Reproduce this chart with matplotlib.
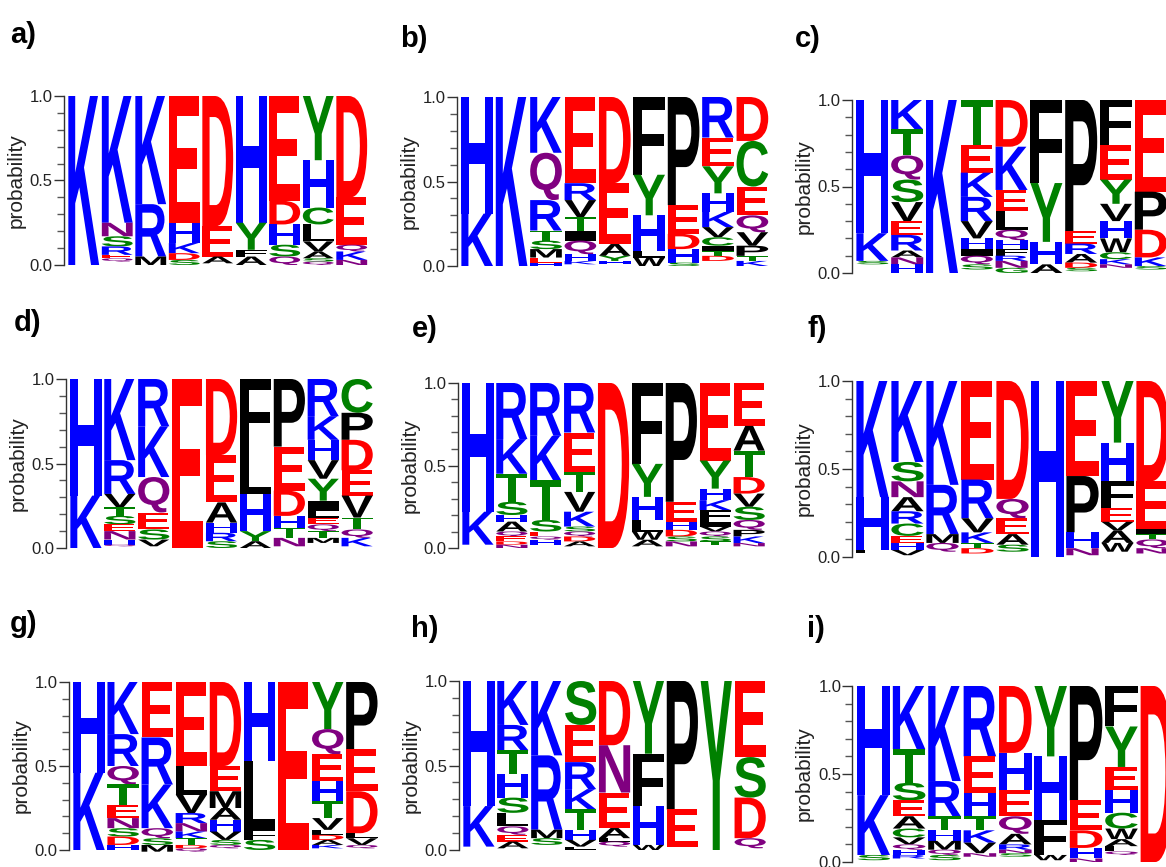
import matplotlib
matplotlib.use("Agg")
import matplotlib.pyplot as plt
from matplotlib.textpath import TextPath
from matplotlib.font_manager import FontProperties
from matplotlib.patches import PathPatch
from matplotlib.transforms import Affine2D
from matplotlib.ticker import MultipleLocator, FixedLocator

# ---------------- data: letters (top to bottom) and probabilities per column ----
a_letters = ["K", "KNSREQ", "KRM", "EHKDS", "DEA", "HYFA", "EDHSQ", "YHCLVASQ", "DEQKN"]
a_probs = [[1.0], [.75, .08, .06, .05, .02, .02], [.64, .31, .05], [.75, .12, .06, .04, .03],
           [.77, .18, .04], [.75, .16, .04, .05], [.62, .14, .12, .07, .05],
           [.38, .28, .10, .10, .06, .04, .02, .02], [.60, .28, .04, .05, .03]]

b_letters = ["HK", "K", "KQRTSMEH", "ERVTIQHK", "DEAYH", "FYHLW", "PEDHS", "REYHKVCITD", "DCEQVPTK"]
b_probs = [[.69, .31], [1.0], [.33, .28, .18, .06, .05, .05, .03, .02],
           [.51, .10, .10, .08, .06, .08, .04, .02], [.51, .36, .07, .03, .02],
           [.46, .24, .21, .04, .05], [.64, .17, .09, .08, .02],
           [.24, .17, .16, .11, .09, .06, .05, .03, .03, .03],
           [.26, .27, .17, .10, .08, .06, .03, .03]]

c_letters = ["HKS", "KTQSVERANH", "K", "TEKRVHIQS", "DKELQHFRNG", "FYHA", "PERADS", "FEYVHWCKN", "EPDKS"]
c_probs = [[.77, .16, .02], [.17, .15, .14, .13, .11, .08, .09, .04, .04, .05], [1.0],
           [.26, .16, .14, .14, .10, .06, .04, .05, .03],
           [.27, .25, .12, .11, .06, .05, .04, .03, .04, .03], [.48, .34, .13, .05],
           [.76, .07, .06, .05, .03, .02], [.26, .20, .14, .10, .10, .08, .04, .03, .02],
           [.53, .22, .16, .05, .02]]

d_letters = ["HK", "KRVTSENHQ", "RKQESV", "E", "DEAHRS", "FLHYA", "PEDHTN", "RKHVYILEQTM", "CPDEVTQK"]
d_probs = [[.69, .31], [.48, .20, .08, .05, .05, .04, .05, .03, .01], [.28, .30, .21, .10, .06, .04],
           [1.0], [.45, .28, .12, .06, .05, .04], [.41, .27, .22, .06, .04],
           [.40, .26, .15, .07, .06, .05], [.22, .14, .12, .11, .13, .06, .04, .04, .04, .04, .03],
           [.20, .16, .18, .15, .13, .07, .05, .05]]

e_letters = ["HK", "RKTSHAQEDN", "RKTSEQH", "RETVKSQDA", "D", "FYHLWA", "PEHDSN", "EYHKFIVQST", "EATDVSQPKN"]
e_probs = [[.78, .20], [.34, .21, .17, .08, .04, .06, .03, .03, .02, .02],
           [.32, .27, .24, .07, .03, .02, .03], [.30, .24, .12, .12, .09, .03, .03, .03, .03],
           [1.0], [.49, .20, .14, .07, .05, .04], [.72, .12, .05, .04, .03, .03],
           [.47, .17, .07, .06, .07, .03, .03, .03, .03, .02],
           [.26, .15, .16, .10, .08, .08, .06, .04, .04, .02]]

f_letters = ["KHL", "KSNARCEHV", "KRMQ", "ERVKTD", "DQEAS", "H", "EPHN", "YHFEVAW", "DEITQN"]
f_probs = [[.66, .30, .02], [.46, .11, .09, .08, .07, .07, .04, .04, .03], [.59, .28, .05, .05],
           [.56, .22, .08, .06, .03, .03], [.67, .11, .09, .06, .04], [1.0], [.54, .32, .09, .04],
           [.35, .22, .15, .08, .05, .07, .05], [.57, .27, .03, .03, .05, .03]]

g_letters = ["HK", "KRQTENSDH", "ERKQSM", "ELVRNKTDQ", "DEMAHVSQ", "HLFS", "E", "YQEHTVLDAK", "PEDLVQ"]
g_probs = [[.54, .46], [.31, .19, .11, .12, .08, .06, .05, .05, .03], [.33, .28, .26, .06, .04, .04],
           [.50, .17, .11, .06, .05, .04, .04, .02, .02], [.50, .15, .10, .07, .07, .05, .03, .02],
           [.47, .41, .06, .06], [1.0], [.28, .15, .16, .12, .10, .07, .03, .03, .03, .02],
           [.40, .25, .25, .03, .04, .02]]

h_letters = ["HK", "KRTHSLQEA", "KRMS", "SERKTHVL", "DNEALQ", "YFHW", "PE", "Y", "ESDQ"]
h_probs = [[.74, .24], [.26, .15, .14, .14, .09, .08, .05, .04, .04], [.44, .44, .05, .04],
           [.26, .22, .16, .12, .12, .06, .04, .02], [.38, .28, .21, .06, .02, .03],
           [.43, .31, .23, .03], [.76, .22], [1.0], [.45, .24, .24, .06]]

i_letters = ["HKS", "KTSEACVQHR", "KRTHMQS", "REHTKVN", "DHEQARNS", "YHFW", "PEDHN", "FYEHCWALQ", "D"]
i_probs = [[.62, .34, .03], [.36, .19, .10, .09, .07, .05, .04, .03, .03, .02],
           [.54, .20, .08, .06, .05, .03, .03], [.40, .21, .13, .08, .07, .06, .02],
           [.38, .21, .15, .10, .06, .03, .02, .02], [.40, .36, .20, .03],
           [.65, .17, .10, .06, .02], [.23, .23, .13, .13, .09, .06, .04, .03, .02], [1.0]]

panel_names = ["a)", "b)", "c)", "d)", "e)", "f)", "g)", "h)", "i)"]
y_ticks = [0.0, 0.5, 1.0]
y_tick_labels = ["0.0", "0.5", "1.0"]

# ---------------- styling ----------------
COLORS = {}
for ch in "KRH":
    COLORS[ch] = "#0000ff"
for ch in "DE":
    COLORS[ch] = "#ff0000"
for ch in "NQ":
    COLORS[ch] = "#800080"
for ch in "STYCG":
    COLORS[ch] = "#008000"
for ch in "AVLIPWFMX":
    COLORS[ch] = "#000000"

W, H = 1166, 867
fig = plt.figure(figsize=(W / 100, H / 100), dpi=100)
fig.patch.set_facecolor("white")

GLYPH_FP = FontProperties(family="Liberation Sans", weight="bold")
_glyph_cache = {}


def glyph(ch):
    if ch not in _glyph_cache:
        p = TextPath((0, 0), ch, size=1, prop=GLYPH_FP)
        _glyph_cache[ch] = (p, p.get_extents())
    return _glyph_cache[ch]


def draw_letter(ax, ch, x0, x1, y0, y1):
    p, bb = glyph(ch)
    tr = (Affine2D().translate(-bb.x0, -bb.y0)
          .scale((x1 - x0) / bb.width, (y1 - y0) / bb.height)
          .translate(x0, y0))
    patch = PathPatch(tr.transform_path(p), facecolor=COLORS.get(ch, "black"),
                      edgecolor="none", lw=0, clip_on=False)
    ax.add_patch(patch)


# (spine x px, y px of 1.0, y px of 0.0, column width px, label x px, label baseline px)
geom = [
    (67, 96, 265, 33.5, 10, 43),
    (460, 97, 266, 34.4, 400, 47),
    (855, 100, 273, 34.8, 795, 47),
    (69, 379, 548, 33.9, 14, 331),
    (461, 383, 548, 33.9, 412, 337),
    (855, 381, 557, 35.0, 807, 337),
    (72, 682, 850, 34.1, 10, 632),
    (462, 681, 850, 33.9, 411, 637),
    (856, 686, 862, 35.4, 807, 637),
]

all_letters = [a_letters, b_letters, c_letters, d_letters, e_letters, f_letters,
               g_letters, h_letters, i_letters]
all_probs = [a_probs, b_probs, c_probs, d_probs, e_probs, f_probs, g_probs, h_probs, i_probs]

pad_cols = 0.1
for k in range(9):
    sx, ytop, ybot, cw, lx, lby = geom[k]
    letters, probs = all_letters[k], all_probs[k]
    ncol = len(letters)
    left = (sx - pad_cols * cw) / W
    width = (ncol + pad_cols) * cw / W
    bottom = (H - ybot) / H
    height = (ybot - ytop) / H
    ax = fig.add_axes([left, bottom, width, height])
    ax.set_xlim(-pad_cols, ncol)
    ax.set_ylim(0, 1)
    for i, (col, pr) in enumerate(zip(letters, probs)):
        top = 1.0
        for ch, p in zip(col, pr):
            draw_letter(ax, ch, i + 0.04, i + 0.96, top - p, top)
            top -= p
    for s in ["top", "right", "bottom"]:
        ax.spines[s].set_visible(False)
    ax.spines["left"].set_position(("data", -pad_cols))
    ax.spines["left"].set_linewidth(1.0)
    ax.spines["left"].set_color("#333333")
    ax.set_xticks([])
    ax.yaxis.set_major_locator(FixedLocator(y_ticks))
    ax.set_yticklabels(y_tick_labels, fontsize=12, family="Liberation Sans", color="#222222")
    ax.yaxis.set_minor_locator(MultipleLocator(0.1))
    ax.tick_params(axis="y", which="major", length=7, width=1.0, color="#333333", pad=1)
    ax.tick_params(axis="y", which="minor", length=5, width=1.0, color="#555555")
    ax.set_ylabel("probability", fontsize=15, family="Liberation Sans", color="#222222", labelpad=3)
    ax.patch.set_alpha(0)
    fig.text(lx / W, (H - lby) / H, panel_names[k], fontsize=21, fontweight="bold",
             family="Liberation Sans", ha="left", va="baseline")

fig.savefig("out.png", dpi=100, facecolor="white")
